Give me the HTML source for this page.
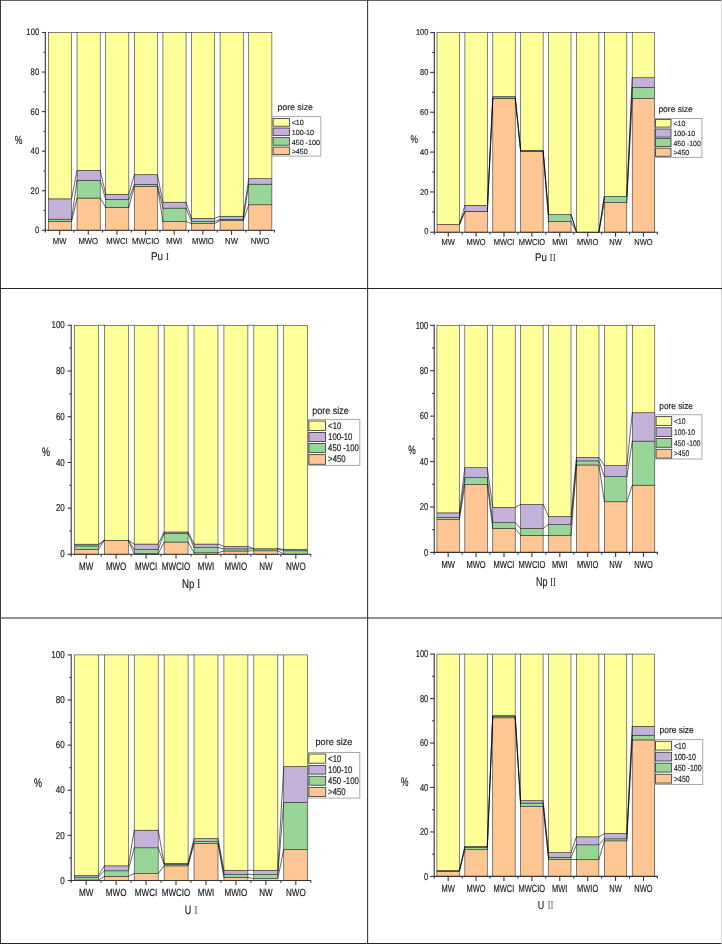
<!DOCTYPE html>
<html><head><meta charset="utf-8"><title>pore size distribution</title>
<style>
html,body{margin:0;padding:0;background:#fff;}
body{width:722px;height:944px;overflow:hidden;font-family:"Liberation Sans",sans-serif;}
svg{display:block;will-change:transform;}
text{stroke:#1a1a1a;stroke-width:0.14px;text-rendering:geometricPrecision;}
.s{font-family:"Liberation Sans",sans-serif;}
.r{font-family:"Liberation Serif",serif;stroke:none;}
</style></head><body>
<svg width="722" height="944" viewBox="0 0 722 944">

<rect x="0" y="0" width="722" height="944" fill="#fff"/>

<g id="P1">
<rect x="48.46" y="221.4" width="23.15" height="8.9" fill="#FDC692" stroke="#333" stroke-width="0.6"/>
<rect x="48.46" y="219.22" width="23.15" height="2.18" fill="#98D698" stroke="#333" stroke-width="0.6"/>
<rect x="48.46" y="198.85" width="23.15" height="20.37" fill="#C3B1D9" stroke="#333" stroke-width="0.6"/>
<rect x="48.46" y="32.5" width="23.15" height="166.35" fill="#FFFF99" stroke="#333" stroke-width="0.6"/>
<rect x="77.07" y="198.06" width="23.15" height="32.24" fill="#FDC692" stroke="#333" stroke-width="0.6"/>
<rect x="77.07" y="180.26" width="23.15" height="17.8" fill="#98D698" stroke="#333" stroke-width="0.6"/>
<rect x="77.07" y="170.37" width="23.15" height="9.89" fill="#C3B1D9" stroke="#333" stroke-width="0.6"/>
<rect x="77.07" y="32.5" width="23.15" height="137.87" fill="#FFFF99" stroke="#333" stroke-width="0.6"/>
<rect x="105.68" y="207.36" width="23.15" height="22.94" fill="#FDC692" stroke="#333" stroke-width="0.6"/>
<rect x="105.68" y="199.44" width="23.15" height="7.91" fill="#98D698" stroke="#333" stroke-width="0.6"/>
<rect x="105.68" y="194.3" width="23.15" height="5.14" fill="#C3B1D9" stroke="#333" stroke-width="0.6"/>
<rect x="105.68" y="32.5" width="23.15" height="161.8" fill="#FFFF99" stroke="#333" stroke-width="0.6"/>
<rect x="134.29" y="186.39" width="23.15" height="43.91" fill="#FDC692" stroke="#333" stroke-width="0.6"/>
<rect x="134.29" y="184.41" width="23.15" height="1.98" fill="#98D698" stroke="#333" stroke-width="0.6"/>
<rect x="134.29" y="174.72" width="23.15" height="9.69" fill="#C3B1D9" stroke="#333" stroke-width="0.6"/>
<rect x="134.29" y="32.5" width="23.15" height="142.22" fill="#FFFF99" stroke="#333" stroke-width="0.6"/>
<rect x="162.9" y="221.5" width="23.15" height="8.8" fill="#FDC692" stroke="#333" stroke-width="0.6"/>
<rect x="162.9" y="208.15" width="23.15" height="13.35" fill="#98D698" stroke="#333" stroke-width="0.6"/>
<rect x="162.9" y="202.21" width="23.15" height="5.93" fill="#C3B1D9" stroke="#333" stroke-width="0.6"/>
<rect x="162.9" y="32.5" width="23.15" height="169.71" fill="#FFFF99" stroke="#333" stroke-width="0.6"/>
<rect x="191.51" y="223.57" width="23.15" height="6.73" fill="#FDC692" stroke="#333" stroke-width="0.6"/>
<rect x="191.51" y="221.6" width="23.15" height="1.98" fill="#98D698" stroke="#333" stroke-width="0.6"/>
<rect x="191.51" y="218.43" width="23.15" height="3.16" fill="#C3B1D9" stroke="#333" stroke-width="0.6"/>
<rect x="191.51" y="32.5" width="23.15" height="185.93" fill="#FFFF99" stroke="#333" stroke-width="0.6"/>
<rect x="220.12" y="220.51" width="23.15" height="9.79" fill="#FDC692" stroke="#333" stroke-width="0.6"/>
<rect x="220.12" y="219.42" width="23.15" height="1.09" fill="#98D698" stroke="#333" stroke-width="0.6"/>
<rect x="220.12" y="216.26" width="23.15" height="3.16" fill="#C3B1D9" stroke="#333" stroke-width="0.6"/>
<rect x="220.12" y="32.5" width="23.15" height="183.76" fill="#FFFF99" stroke="#333" stroke-width="0.6"/>
<rect x="248.73" y="204.78" width="23.15" height="25.52" fill="#FDC692" stroke="#333" stroke-width="0.6"/>
<rect x="248.73" y="184.21" width="23.15" height="20.57" fill="#98D698" stroke="#333" stroke-width="0.6"/>
<rect x="248.73" y="178.67" width="23.15" height="5.54" fill="#C3B1D9" stroke="#333" stroke-width="0.6"/>
<rect x="248.73" y="32.5" width="23.15" height="146.17" fill="#FFFF99" stroke="#333" stroke-width="0.6"/>
<line x1="71.6" y1="221.4" x2="77.07" y2="198.06" stroke="#000" stroke-width="0.6"/>
<line x1="71.6" y1="219.22" x2="77.07" y2="180.26" stroke="#000" stroke-width="0.6"/>
<line x1="71.6" y1="198.85" x2="77.07" y2="170.37" stroke="#000" stroke-width="0.6"/>
<line x1="71.6" y1="32.5" x2="77.07" y2="32.5" stroke="#555" stroke-width="0.8"/>
<line x1="100.21" y1="198.06" x2="105.68" y2="207.36" stroke="#000" stroke-width="0.6"/>
<line x1="100.21" y1="180.26" x2="105.68" y2="199.44" stroke="#000" stroke-width="0.6"/>
<line x1="100.21" y1="170.37" x2="105.68" y2="194.3" stroke="#000" stroke-width="0.6"/>
<line x1="100.21" y1="32.5" x2="105.68" y2="32.5" stroke="#555" stroke-width="0.8"/>
<line x1="128.82" y1="207.36" x2="134.29" y2="186.39" stroke="#000" stroke-width="0.6"/>
<line x1="128.82" y1="199.44" x2="134.29" y2="184.41" stroke="#000" stroke-width="0.6"/>
<line x1="128.82" y1="194.3" x2="134.29" y2="174.72" stroke="#000" stroke-width="0.6"/>
<line x1="128.82" y1="32.5" x2="134.29" y2="32.5" stroke="#555" stroke-width="0.8"/>
<line x1="157.43" y1="186.39" x2="162.9" y2="221.5" stroke="#000" stroke-width="0.6"/>
<line x1="157.43" y1="184.41" x2="162.9" y2="208.15" stroke="#000" stroke-width="0.6"/>
<line x1="157.43" y1="174.72" x2="162.9" y2="202.21" stroke="#000" stroke-width="0.6"/>
<line x1="157.43" y1="32.5" x2="162.9" y2="32.5" stroke="#555" stroke-width="0.8"/>
<line x1="186.04" y1="221.5" x2="191.51" y2="223.57" stroke="#000" stroke-width="0.6"/>
<line x1="186.04" y1="208.15" x2="191.51" y2="221.6" stroke="#000" stroke-width="0.6"/>
<line x1="186.04" y1="202.21" x2="191.51" y2="218.43" stroke="#000" stroke-width="0.6"/>
<line x1="186.04" y1="32.5" x2="191.51" y2="32.5" stroke="#555" stroke-width="0.8"/>
<line x1="214.65" y1="223.57" x2="220.12" y2="220.51" stroke="#000" stroke-width="0.6"/>
<line x1="214.65" y1="221.6" x2="220.12" y2="219.42" stroke="#000" stroke-width="0.6"/>
<line x1="214.65" y1="218.43" x2="220.12" y2="216.26" stroke="#000" stroke-width="0.6"/>
<line x1="214.65" y1="32.5" x2="220.12" y2="32.5" stroke="#555" stroke-width="0.8"/>
<line x1="243.26" y1="220.51" x2="248.73" y2="204.78" stroke="#000" stroke-width="0.6"/>
<line x1="243.26" y1="219.42" x2="248.73" y2="184.21" stroke="#000" stroke-width="0.6"/>
<line x1="243.26" y1="216.26" x2="248.73" y2="178.67" stroke="#000" stroke-width="0.6"/>
<line x1="243.26" y1="32.5" x2="248.73" y2="32.5" stroke="#555" stroke-width="0.8"/>
<path d="M45.3 32V230.3H274.8" fill="none" stroke="#363636" stroke-width="1.1"/>
<line x1="42" y1="230.3" x2="45.3" y2="230.3" stroke="#363636" stroke-width="1.1"/>
<text class="s" transform="translate(39.18,233.29) scale(1,1.23)" font-size="7.7" text-anchor="end" fill="#1a1a1a">0</text>
<line x1="43.58" y1="210.52" x2="45.3" y2="210.52" stroke="#363636" stroke-width="1.1"/>
<line x1="42" y1="190.74" x2="45.3" y2="190.74" stroke="#363636" stroke-width="1.1"/>
<text class="s" transform="translate(39.18,193.73) scale(1,1.23)" font-size="7.7" text-anchor="end" fill="#1a1a1a">20</text>
<line x1="43.58" y1="170.96" x2="45.3" y2="170.96" stroke="#363636" stroke-width="1.1"/>
<line x1="42" y1="151.18" x2="45.3" y2="151.18" stroke="#363636" stroke-width="1.1"/>
<text class="s" transform="translate(39.18,154.17) scale(1,1.23)" font-size="7.7" text-anchor="end" fill="#1a1a1a">40</text>
<line x1="43.58" y1="131.4" x2="45.3" y2="131.4" stroke="#363636" stroke-width="1.1"/>
<line x1="42" y1="111.62" x2="45.3" y2="111.62" stroke="#363636" stroke-width="1.1"/>
<text class="s" transform="translate(39.18,114.61) scale(1,1.23)" font-size="7.7" text-anchor="end" fill="#1a1a1a">60</text>
<line x1="43.58" y1="91.84" x2="45.3" y2="91.84" stroke="#363636" stroke-width="1.1"/>
<line x1="42" y1="72.06" x2="45.3" y2="72.06" stroke="#363636" stroke-width="1.1"/>
<text class="s" transform="translate(39.18,75.05) scale(1,1.23)" font-size="7.7" text-anchor="end" fill="#1a1a1a">80</text>
<line x1="43.58" y1="52.28" x2="45.3" y2="52.28" stroke="#363636" stroke-width="1.1"/>
<line x1="42" y1="32.5" x2="45.3" y2="32.5" stroke="#363636" stroke-width="1.1"/>
<text class="s" transform="translate(39.18,35.49) scale(1,1.23)" font-size="7.7" text-anchor="end" fill="#1a1a1a">100</text>
<line x1="45.3" y1="230.3" x2="45.3" y2="232.5" stroke="#363636" stroke-width="1.1"/>
<line x1="59.62" y1="230.3" x2="59.62" y2="234.8" stroke="#363636" stroke-width="1.1"/>
<line x1="73.95" y1="230.3" x2="73.95" y2="232.5" stroke="#363636" stroke-width="1.1"/>
<line x1="88.27" y1="230.3" x2="88.27" y2="234.8" stroke="#363636" stroke-width="1.1"/>
<line x1="102.6" y1="230.3" x2="102.6" y2="232.5" stroke="#363636" stroke-width="1.1"/>
<line x1="116.92" y1="230.3" x2="116.92" y2="234.8" stroke="#363636" stroke-width="1.1"/>
<line x1="131.25" y1="230.3" x2="131.25" y2="232.5" stroke="#363636" stroke-width="1.1"/>
<line x1="145.57" y1="230.3" x2="145.57" y2="234.8" stroke="#363636" stroke-width="1.1"/>
<line x1="159.9" y1="230.3" x2="159.9" y2="232.5" stroke="#363636" stroke-width="1.1"/>
<line x1="174.22" y1="230.3" x2="174.22" y2="234.8" stroke="#363636" stroke-width="1.1"/>
<line x1="188.55" y1="230.3" x2="188.55" y2="232.5" stroke="#363636" stroke-width="1.1"/>
<line x1="202.88" y1="230.3" x2="202.88" y2="234.8" stroke="#363636" stroke-width="1.1"/>
<line x1="217.2" y1="230.3" x2="217.2" y2="232.5" stroke="#363636" stroke-width="1.1"/>
<line x1="231.52" y1="230.3" x2="231.52" y2="234.8" stroke="#363636" stroke-width="1.1"/>
<line x1="245.85" y1="230.3" x2="245.85" y2="232.5" stroke="#363636" stroke-width="1.1"/>
<line x1="260.18" y1="230.3" x2="260.18" y2="234.8" stroke="#363636" stroke-width="1.1"/>
<line x1="274.5" y1="230.3" x2="274.5" y2="232.5" stroke="#363636" stroke-width="1.1"/>
<text class="s" transform="translate(59.62,244.19) scale(1,1.12)" font-size="7.7" text-anchor="middle" fill="#1a1a1a">MW</text>
<text class="s" transform="translate(88.27,244.19) scale(1,1.12)" font-size="7.7" text-anchor="middle" fill="#1a1a1a">MWO</text>
<text class="s" transform="translate(116.92,244.19) scale(1,1.12)" font-size="7.7" text-anchor="middle" fill="#1a1a1a">MWCI</text>
<text class="s" transform="translate(145.57,244.19) scale(1,1.12)" font-size="7.7" text-anchor="middle" fill="#1a1a1a">MWCIO</text>
<text class="s" transform="translate(174.22,244.19) scale(1,1.12)" font-size="7.7" text-anchor="middle" fill="#1a1a1a">MWI</text>
<text class="s" transform="translate(202.88,244.19) scale(1,1.12)" font-size="7.7" text-anchor="middle" fill="#1a1a1a">MWIO</text>
<text class="s" transform="translate(231.52,244.19) scale(1,1.12)" font-size="7.7" text-anchor="middle" fill="#1a1a1a">NW</text>
<text class="s" transform="translate(260.18,244.19) scale(1,1.12)" font-size="7.7" text-anchor="middle" fill="#1a1a1a">NWO</text>
<text class="s" transform="translate(163,259.7) scale(0.96,1.09)" font-size="10.2" text-anchor="end" fill="#1a1a1a">Pu</text>
<text class="r" transform="translate(165.7,259.7) scale(0.96,1)" font-size="10.6" text-anchor="start" fill="#3a3a3a">I</text>
<text class="s" transform="translate(18.55,144.07) scale(0.96,1.32)" font-size="9" text-anchor="middle" fill="#1a1a1a">%</text>
<rect x="272.3" y="116.6" width="48.5" height="39.5" fill="#fff" stroke="#a8a8a8" stroke-width="1"/>
<rect x="273.1" y="118.6" width="16.3" height="7.6" fill="#FFFF99" stroke="#444" stroke-width="0.9"/>
<text class="s" transform="translate(291.7,125.4) scale(0.96,1)" font-size="7.45" text-anchor="start" fill="#1a1a1a">&lt;10</text>
<rect x="273.1" y="128" width="16.3" height="7.6" fill="#C3B1D9" stroke="#444" stroke-width="0.9"/>
<text class="s" transform="translate(291.7,135) scale(0.96,1)" font-size="7.45" text-anchor="start" fill="#1a1a1a">100-10</text>
<rect x="273.1" y="137.6" width="16.3" height="7.6" fill="#98D698" stroke="#444" stroke-width="0.9"/>
<text class="s" transform="translate(291.7,144.5) scale(0.96,1)" font-size="7.45" text-anchor="start" fill="#1a1a1a">450 -100</text>
<rect x="273.1" y="147.1" width="16.3" height="7.5" fill="#FDC692" stroke="#444" stroke-width="0.9"/>
<text class="s" transform="translate(291.7,154) scale(0.96,1)" font-size="7.45" text-anchor="start" fill="#1a1a1a">&gt;450</text>
<text class="s" transform="translate(277.4,109.7) scale(0.96,0.95)" font-size="9.13" text-anchor="start" fill="#1a1a1a">pore size</text>
</g>
<g id="P2">
<rect x="437.02" y="224.43" width="22.45" height="7.77" fill="#FDC692" stroke="#333" stroke-width="0.6"/>
<rect x="437.02" y="224.43" width="22.45" height="0" fill="#98D698" stroke="#333" stroke-width="0.6"/>
<rect x="437.02" y="224.43" width="22.45" height="0" fill="#C3B1D9" stroke="#333" stroke-width="0.6"/>
<rect x="437.02" y="32.5" width="22.45" height="191.93" fill="#FFFF99" stroke="#333" stroke-width="0.6"/>
<rect x="464.91" y="211.67" width="22.45" height="20.53" fill="#FDC692" stroke="#333" stroke-width="0.6"/>
<rect x="464.91" y="211.47" width="22.45" height="0.2" fill="#98D698" stroke="#333" stroke-width="0.6"/>
<rect x="464.91" y="205.29" width="22.45" height="6.18" fill="#C3B1D9" stroke="#333" stroke-width="0.6"/>
<rect x="464.91" y="32.5" width="22.45" height="172.79" fill="#FFFF99" stroke="#333" stroke-width="0.6"/>
<rect x="492.79" y="98.67" width="22.45" height="133.53" fill="#FDC692" stroke="#333" stroke-width="0.6"/>
<rect x="492.79" y="98.07" width="22.45" height="0.6" fill="#98D698" stroke="#333" stroke-width="0.6"/>
<rect x="492.79" y="96.48" width="22.45" height="1.59" fill="#C3B1D9" stroke="#333" stroke-width="0.6"/>
<rect x="492.79" y="32.5" width="22.45" height="63.98" fill="#FFFF99" stroke="#333" stroke-width="0.6"/>
<rect x="520.68" y="151.68" width="22.45" height="80.52" fill="#FDC692" stroke="#333" stroke-width="0.6"/>
<rect x="520.68" y="151.08" width="22.45" height="0.6" fill="#98D698" stroke="#333" stroke-width="0.6"/>
<rect x="520.68" y="150.29" width="22.45" height="0.8" fill="#C3B1D9" stroke="#333" stroke-width="0.6"/>
<rect x="520.68" y="32.5" width="22.45" height="117.79" fill="#FFFF99" stroke="#333" stroke-width="0.6"/>
<rect x="548.57" y="221.44" width="22.45" height="10.76" fill="#FDC692" stroke="#333" stroke-width="0.6"/>
<rect x="548.57" y="214.46" width="22.45" height="6.98" fill="#98D698" stroke="#333" stroke-width="0.6"/>
<rect x="548.57" y="214.46" width="22.45" height="0" fill="#C3B1D9" stroke="#333" stroke-width="0.6"/>
<rect x="548.57" y="32.5" width="22.45" height="181.96" fill="#FFFF99" stroke="#333" stroke-width="0.6"/>
<rect x="576.46" y="231.8" width="22.45" height="0.4" fill="#FDC692" stroke="#333" stroke-width="0.6"/>
<rect x="576.46" y="231.8" width="22.45" height="0.4" fill="#98D698" stroke="#333" stroke-width="0.6"/>
<rect x="576.46" y="231.8" width="22.45" height="0.4" fill="#C3B1D9" stroke="#333" stroke-width="0.6"/>
<rect x="576.46" y="32.5" width="22.45" height="199.7" fill="#FFFF99" stroke="#333" stroke-width="0.6"/>
<rect x="604.34" y="202.5" width="22.45" height="29.7" fill="#FDC692" stroke="#333" stroke-width="0.6"/>
<rect x="604.34" y="196.32" width="22.45" height="6.18" fill="#98D698" stroke="#333" stroke-width="0.6"/>
<rect x="604.34" y="196.32" width="22.45" height="0" fill="#C3B1D9" stroke="#333" stroke-width="0.6"/>
<rect x="604.34" y="32.5" width="22.45" height="163.82" fill="#FFFF99" stroke="#333" stroke-width="0.6"/>
<rect x="632.23" y="98.47" width="22.45" height="133.73" fill="#FDC692" stroke="#333" stroke-width="0.6"/>
<rect x="632.23" y="87.31" width="22.45" height="11.16" fill="#98D698" stroke="#333" stroke-width="0.6"/>
<rect x="632.23" y="77.74" width="22.45" height="9.57" fill="#C3B1D9" stroke="#333" stroke-width="0.6"/>
<rect x="632.23" y="32.5" width="22.45" height="45.24" fill="#FFFF99" stroke="#333" stroke-width="0.6"/>
<line x1="459.47" y1="224.43" x2="464.91" y2="211.67" stroke="#000" stroke-width="0.6"/>
<line x1="459.47" y1="224.43" x2="464.91" y2="211.47" stroke="#000" stroke-width="0.6"/>
<line x1="459.47" y1="224.43" x2="464.91" y2="205.29" stroke="#000" stroke-width="0.6"/>
<line x1="459.47" y1="32.5" x2="464.91" y2="32.5" stroke="#555" stroke-width="0.8"/>
<line x1="487.36" y1="211.67" x2="492.79" y2="98.67" stroke="#000" stroke-width="0.6"/>
<line x1="487.36" y1="211.47" x2="492.79" y2="98.07" stroke="#000" stroke-width="0.6"/>
<line x1="487.36" y1="205.29" x2="492.79" y2="96.48" stroke="#000" stroke-width="0.6"/>
<line x1="487.36" y1="32.5" x2="492.79" y2="32.5" stroke="#555" stroke-width="0.8"/>
<line x1="515.24" y1="98.67" x2="520.68" y2="151.68" stroke="#000" stroke-width="0.6"/>
<line x1="515.24" y1="98.07" x2="520.68" y2="151.08" stroke="#000" stroke-width="0.6"/>
<line x1="515.24" y1="96.48" x2="520.68" y2="150.29" stroke="#000" stroke-width="0.6"/>
<line x1="515.24" y1="32.5" x2="520.68" y2="32.5" stroke="#555" stroke-width="0.8"/>
<line x1="543.13" y1="151.68" x2="548.57" y2="221.44" stroke="#000" stroke-width="0.6"/>
<line x1="543.13" y1="151.08" x2="548.57" y2="214.46" stroke="#000" stroke-width="0.6"/>
<line x1="543.13" y1="150.29" x2="548.57" y2="214.46" stroke="#000" stroke-width="0.6"/>
<line x1="543.13" y1="32.5" x2="548.57" y2="32.5" stroke="#555" stroke-width="0.8"/>
<line x1="571.02" y1="221.44" x2="576.46" y2="231.8" stroke="#000" stroke-width="0.6"/>
<line x1="571.02" y1="214.46" x2="576.46" y2="231.8" stroke="#000" stroke-width="0.6"/>
<line x1="571.02" y1="214.46" x2="576.46" y2="231.8" stroke="#000" stroke-width="0.6"/>
<line x1="571.02" y1="32.5" x2="576.46" y2="32.5" stroke="#555" stroke-width="0.8"/>
<line x1="598.91" y1="231.8" x2="604.34" y2="202.5" stroke="#000" stroke-width="0.6"/>
<line x1="598.91" y1="231.8" x2="604.34" y2="196.32" stroke="#000" stroke-width="0.6"/>
<line x1="598.91" y1="231.8" x2="604.34" y2="196.32" stroke="#000" stroke-width="0.6"/>
<line x1="598.91" y1="32.5" x2="604.34" y2="32.5" stroke="#555" stroke-width="0.8"/>
<line x1="626.79" y1="202.5" x2="632.23" y2="98.47" stroke="#000" stroke-width="0.6"/>
<line x1="626.79" y1="196.32" x2="632.23" y2="87.31" stroke="#000" stroke-width="0.6"/>
<line x1="626.79" y1="196.32" x2="632.23" y2="77.74" stroke="#000" stroke-width="0.6"/>
<line x1="626.79" y1="32.5" x2="632.23" y2="32.5" stroke="#555" stroke-width="0.8"/>
<path d="M434.3 32V232.2H657.7" fill="none" stroke="#363636" stroke-width="1.1"/>
<line x1="430.2" y1="232.2" x2="434.3" y2="232.2" stroke="#363636" stroke-width="1.1"/>
<text class="s" transform="translate(428.34,234.44) scale(0.97,1.1)" font-size="7.7" text-anchor="end" fill="#1a1a1a">0</text>
<line x1="432.17" y1="211.87" x2="434.3" y2="211.87" stroke="#363636" stroke-width="1.1"/>
<line x1="430.2" y1="191.94" x2="434.3" y2="191.94" stroke="#363636" stroke-width="1.1"/>
<text class="s" transform="translate(428.34,194.58) scale(0.97,1.1)" font-size="7.7" text-anchor="end" fill="#1a1a1a">20</text>
<line x1="432.17" y1="172.01" x2="434.3" y2="172.01" stroke="#363636" stroke-width="1.1"/>
<line x1="430.2" y1="152.08" x2="434.3" y2="152.08" stroke="#363636" stroke-width="1.1"/>
<text class="s" transform="translate(428.34,154.72) scale(0.97,1.1)" font-size="7.7" text-anchor="end" fill="#1a1a1a">40</text>
<line x1="432.17" y1="132.15" x2="434.3" y2="132.15" stroke="#363636" stroke-width="1.1"/>
<line x1="430.2" y1="112.22" x2="434.3" y2="112.22" stroke="#363636" stroke-width="1.1"/>
<text class="s" transform="translate(428.34,114.86) scale(0.97,1.1)" font-size="7.7" text-anchor="end" fill="#1a1a1a">60</text>
<line x1="432.17" y1="92.29" x2="434.3" y2="92.29" stroke="#363636" stroke-width="1.1"/>
<line x1="430.2" y1="72.36" x2="434.3" y2="72.36" stroke="#363636" stroke-width="1.1"/>
<text class="s" transform="translate(428.34,75) scale(0.97,1.1)" font-size="7.7" text-anchor="end" fill="#1a1a1a">80</text>
<line x1="432.17" y1="52.43" x2="434.3" y2="52.43" stroke="#363636" stroke-width="1.1"/>
<line x1="430.2" y1="32.5" x2="434.3" y2="32.5" stroke="#363636" stroke-width="1.1"/>
<text class="s" transform="translate(428.34,35.14) scale(0.97,1.1)" font-size="7.7" text-anchor="end" fill="#1a1a1a">100</text>
<line x1="434.3" y1="232.2" x2="434.3" y2="234.4" stroke="#363636" stroke-width="1.1"/>
<line x1="448.24" y1="232.2" x2="448.24" y2="236.7" stroke="#363636" stroke-width="1.1"/>
<line x1="462.19" y1="232.2" x2="462.19" y2="234.4" stroke="#363636" stroke-width="1.1"/>
<line x1="476.13" y1="232.2" x2="476.13" y2="236.7" stroke="#363636" stroke-width="1.1"/>
<line x1="490.07" y1="232.2" x2="490.07" y2="234.4" stroke="#363636" stroke-width="1.1"/>
<line x1="504.02" y1="232.2" x2="504.02" y2="236.7" stroke="#363636" stroke-width="1.1"/>
<line x1="517.96" y1="232.2" x2="517.96" y2="234.4" stroke="#363636" stroke-width="1.1"/>
<line x1="531.91" y1="232.2" x2="531.91" y2="236.7" stroke="#363636" stroke-width="1.1"/>
<line x1="545.85" y1="232.2" x2="545.85" y2="234.4" stroke="#363636" stroke-width="1.1"/>
<line x1="559.79" y1="232.2" x2="559.79" y2="236.7" stroke="#363636" stroke-width="1.1"/>
<line x1="573.74" y1="232.2" x2="573.74" y2="234.4" stroke="#363636" stroke-width="1.1"/>
<line x1="587.68" y1="232.2" x2="587.68" y2="236.7" stroke="#363636" stroke-width="1.1"/>
<line x1="601.62" y1="232.2" x2="601.62" y2="234.4" stroke="#363636" stroke-width="1.1"/>
<line x1="615.57" y1="232.2" x2="615.57" y2="236.7" stroke="#363636" stroke-width="1.1"/>
<line x1="629.51" y1="232.2" x2="629.51" y2="234.4" stroke="#363636" stroke-width="1.1"/>
<line x1="643.46" y1="232.2" x2="643.46" y2="236.7" stroke="#363636" stroke-width="1.1"/>
<line x1="657.4" y1="232.2" x2="657.4" y2="234.4" stroke="#363636" stroke-width="1.1"/>
<text class="s" transform="translate(448.24,245.19) scale(0.97,1.12)" font-size="7.7" text-anchor="middle" fill="#1a1a1a">MW</text>
<text class="s" transform="translate(476.13,245.19) scale(0.97,1.12)" font-size="7.7" text-anchor="middle" fill="#1a1a1a">MWO</text>
<text class="s" transform="translate(504.02,245.19) scale(0.97,1.12)" font-size="7.7" text-anchor="middle" fill="#1a1a1a">MWCI</text>
<text class="s" transform="translate(531.91,245.19) scale(0.97,1.12)" font-size="7.7" text-anchor="middle" fill="#1a1a1a">MWCIO</text>
<text class="s" transform="translate(559.79,245.19) scale(0.97,1.12)" font-size="7.7" text-anchor="middle" fill="#1a1a1a">MWI</text>
<text class="s" transform="translate(587.68,245.19) scale(0.97,1.12)" font-size="7.7" text-anchor="middle" fill="#1a1a1a">MWIO</text>
<text class="s" transform="translate(615.57,245.19) scale(0.97,1.12)" font-size="7.7" text-anchor="middle" fill="#1a1a1a">NW</text>
<text class="s" transform="translate(643.46,245.19) scale(0.97,1.12)" font-size="7.7" text-anchor="middle" fill="#1a1a1a">NWO</text>
<text class="s" transform="translate(546.8,260.5) scale(0.93,1.07)" font-size="10.4" text-anchor="end" fill="#1a1a1a">Pu</text>
<text class="r" transform="translate(549.6,260.5) scale(0.93,1.05)" font-size="10.2" text-anchor="start" fill="#3a3a3a">II</text>
<text class="s" transform="translate(414.1,142.82) scale(0.93,1.25)" font-size="9" text-anchor="middle" fill="#1a1a1a">%</text>
<rect x="655.1" y="118.5" width="46.8" height="38.9" fill="#fff" stroke="#a8a8a8" stroke-width="1"/>
<rect x="655.5" y="119.4" width="15.5" height="7.7" fill="#FFFF99" stroke="#444" stroke-width="0.9"/>
<text class="s" transform="translate(673.5,126.4) scale(0.93,1)" font-size="7.45" text-anchor="start" fill="#1a1a1a">&lt;10</text>
<rect x="655.5" y="129" width="15.5" height="8.1" fill="#C3B1D9" stroke="#444" stroke-width="0.9"/>
<text class="s" transform="translate(673.5,136.1) scale(0.93,1)" font-size="7.45" text-anchor="start" fill="#1a1a1a">100-10</text>
<rect x="655.5" y="138.4" width="15.5" height="8.1" fill="#98D698" stroke="#444" stroke-width="0.9"/>
<text class="s" transform="translate(673.5,145.6) scale(0.93,1)" font-size="7.45" text-anchor="start" fill="#1a1a1a">450 -100</text>
<rect x="655.5" y="148.2" width="15.5" height="8.1" fill="#FDC692" stroke="#444" stroke-width="0.9"/>
<text class="s" transform="translate(673.5,155) scale(0.93,1)" font-size="7.45" text-anchor="start" fill="#1a1a1a">&gt;450</text>
<text class="s" transform="translate(658.4,112.3) scale(0.93,0.95)" font-size="9.14" text-anchor="start" fill="#1a1a1a">pore size</text>
</g>
<g id="P3">
<rect x="74.43" y="549.56" width="23.96" height="4.74" fill="#FDC692" stroke="#333" stroke-width="0.6"/>
<rect x="74.43" y="545.9" width="23.96" height="3.66" fill="#98D698" stroke="#333" stroke-width="0.6"/>
<rect x="74.43" y="544.18" width="23.96" height="1.71" fill="#C3B1D9" stroke="#333" stroke-width="0.6"/>
<rect x="74.43" y="325.3" width="23.96" height="218.88" fill="#FFFF99" stroke="#333" stroke-width="0.6"/>
<rect x="104.33" y="540.3" width="23.96" height="14" fill="#FDC692" stroke="#333" stroke-width="0.6"/>
<rect x="104.33" y="540.3" width="23.96" height="0" fill="#98D698" stroke="#333" stroke-width="0.6"/>
<rect x="104.33" y="540.3" width="23.96" height="0" fill="#C3B1D9" stroke="#333" stroke-width="0.6"/>
<rect x="104.33" y="325.3" width="23.96" height="215" fill="#FFFF99" stroke="#333" stroke-width="0.6"/>
<rect x="134.23" y="553.79" width="23.96" height="0.51" fill="#FDC692" stroke="#333" stroke-width="0.6"/>
<rect x="134.23" y="549.44" width="23.96" height="4.34" fill="#98D698" stroke="#333" stroke-width="0.6"/>
<rect x="134.23" y="544.07" width="23.96" height="5.37" fill="#C3B1D9" stroke="#333" stroke-width="0.6"/>
<rect x="134.23" y="325.3" width="23.96" height="218.77" fill="#FFFF99" stroke="#333" stroke-width="0.6"/>
<rect x="164.13" y="542.01" width="23.96" height="12.29" fill="#FDC692" stroke="#333" stroke-width="0.6"/>
<rect x="164.13" y="533.33" width="23.96" height="8.69" fill="#98D698" stroke="#333" stroke-width="0.6"/>
<rect x="164.13" y="531.95" width="23.96" height="1.37" fill="#C3B1D9" stroke="#333" stroke-width="0.6"/>
<rect x="164.13" y="325.3" width="23.96" height="206.65" fill="#FFFF99" stroke="#333" stroke-width="0.6"/>
<rect x="194.03" y="552.76" width="23.96" height="1.54" fill="#FDC692" stroke="#333" stroke-width="0.6"/>
<rect x="194.03" y="547.59" width="23.96" height="5.17" fill="#98D698" stroke="#333" stroke-width="0.6"/>
<rect x="194.03" y="544.07" width="23.96" height="3.52" fill="#C3B1D9" stroke="#333" stroke-width="0.6"/>
<rect x="194.03" y="325.3" width="23.96" height="218.77" fill="#FFFF99" stroke="#333" stroke-width="0.6"/>
<rect x="223.93" y="551" width="23.96" height="3.3" fill="#FDC692" stroke="#333" stroke-width="0.6"/>
<rect x="223.93" y="548.87" width="23.96" height="2.13" fill="#98D698" stroke="#333" stroke-width="0.6"/>
<rect x="223.93" y="546.42" width="23.96" height="2.45" fill="#C3B1D9" stroke="#333" stroke-width="0.6"/>
<rect x="223.93" y="325.3" width="23.96" height="221.12" fill="#FFFF99" stroke="#333" stroke-width="0.6"/>
<rect x="253.83" y="550.79" width="23.96" height="3.51" fill="#FDC692" stroke="#333" stroke-width="0.6"/>
<rect x="253.83" y="548.87" width="23.96" height="1.92" fill="#98D698" stroke="#333" stroke-width="0.6"/>
<rect x="253.83" y="548.76" width="23.96" height="0.11" fill="#C3B1D9" stroke="#333" stroke-width="0.6"/>
<rect x="253.83" y="325.3" width="23.96" height="223.46" fill="#FFFF99" stroke="#333" stroke-width="0.6"/>
<rect x="283.73" y="553.9" width="23.96" height="0.4" fill="#FDC692" stroke="#333" stroke-width="0.6"/>
<rect x="283.73" y="550.79" width="23.96" height="3.51" fill="#98D698" stroke="#333" stroke-width="0.6"/>
<rect x="283.73" y="549.33" width="23.96" height="1.46" fill="#C3B1D9" stroke="#333" stroke-width="0.6"/>
<rect x="283.73" y="325.3" width="23.96" height="224.03" fill="#FFFF99" stroke="#333" stroke-width="0.6"/>
<line x1="98.39" y1="549.56" x2="104.33" y2="540.3" stroke="#000" stroke-width="0.6"/>
<line x1="98.39" y1="545.9" x2="104.33" y2="540.3" stroke="#000" stroke-width="0.6"/>
<line x1="98.39" y1="544.18" x2="104.33" y2="540.3" stroke="#000" stroke-width="0.6"/>
<line x1="98.39" y1="325.3" x2="104.33" y2="325.3" stroke="#555" stroke-width="0.8"/>
<line x1="128.29" y1="540.3" x2="134.23" y2="553.79" stroke="#000" stroke-width="0.6"/>
<line x1="128.29" y1="540.3" x2="134.23" y2="549.44" stroke="#000" stroke-width="0.6"/>
<line x1="128.29" y1="540.3" x2="134.23" y2="544.07" stroke="#000" stroke-width="0.6"/>
<line x1="128.29" y1="325.3" x2="134.23" y2="325.3" stroke="#555" stroke-width="0.8"/>
<line x1="158.19" y1="553.79" x2="164.13" y2="542.01" stroke="#000" stroke-width="0.6"/>
<line x1="158.19" y1="549.44" x2="164.13" y2="533.33" stroke="#000" stroke-width="0.6"/>
<line x1="158.19" y1="544.07" x2="164.13" y2="531.95" stroke="#000" stroke-width="0.6"/>
<line x1="158.19" y1="325.3" x2="164.13" y2="325.3" stroke="#555" stroke-width="0.8"/>
<line x1="188.09" y1="542.01" x2="194.03" y2="552.76" stroke="#000" stroke-width="0.6"/>
<line x1="188.09" y1="533.33" x2="194.03" y2="547.59" stroke="#000" stroke-width="0.6"/>
<line x1="188.09" y1="531.95" x2="194.03" y2="544.07" stroke="#000" stroke-width="0.6"/>
<line x1="188.09" y1="325.3" x2="194.03" y2="325.3" stroke="#555" stroke-width="0.8"/>
<line x1="217.99" y1="552.76" x2="223.93" y2="551" stroke="#000" stroke-width="0.6"/>
<line x1="217.99" y1="547.59" x2="223.93" y2="548.87" stroke="#000" stroke-width="0.6"/>
<line x1="217.99" y1="544.07" x2="223.93" y2="546.42" stroke="#000" stroke-width="0.6"/>
<line x1="217.99" y1="325.3" x2="223.93" y2="325.3" stroke="#555" stroke-width="0.8"/>
<line x1="247.89" y1="551" x2="253.83" y2="550.79" stroke="#000" stroke-width="0.6"/>
<line x1="247.89" y1="548.87" x2="253.83" y2="548.87" stroke="#000" stroke-width="0.6"/>
<line x1="247.89" y1="546.42" x2="253.83" y2="548.76" stroke="#000" stroke-width="0.6"/>
<line x1="247.89" y1="325.3" x2="253.83" y2="325.3" stroke="#555" stroke-width="0.8"/>
<line x1="277.79" y1="550.79" x2="283.73" y2="553.9" stroke="#000" stroke-width="0.6"/>
<line x1="277.79" y1="548.87" x2="283.73" y2="550.79" stroke="#000" stroke-width="0.6"/>
<line x1="277.79" y1="548.76" x2="283.73" y2="549.33" stroke="#000" stroke-width="0.6"/>
<line x1="277.79" y1="325.3" x2="283.73" y2="325.3" stroke="#555" stroke-width="0.8"/>
<path d="M71.2 324.8V554.3H311.1" fill="none" stroke="#363636" stroke-width="1.1"/>
<line x1="67.6" y1="554.3" x2="71.2" y2="554.3" stroke="#363636" stroke-width="1.1"/>
<text class="s" transform="translate(64.8,557.06) scale(1.04,1.29)" font-size="7.7" text-anchor="end" fill="#1a1a1a">0</text>
<line x1="69.33" y1="531.04" x2="71.2" y2="531.04" stroke="#363636" stroke-width="1.1"/>
<line x1="67.6" y1="508.18" x2="71.2" y2="508.18" stroke="#363636" stroke-width="1.1"/>
<text class="s" transform="translate(64.8,511.34) scale(1.04,1.29)" font-size="7.7" text-anchor="end" fill="#1a1a1a">20</text>
<line x1="69.33" y1="485.32" x2="71.2" y2="485.32" stroke="#363636" stroke-width="1.1"/>
<line x1="67.6" y1="462.46" x2="71.2" y2="462.46" stroke="#363636" stroke-width="1.1"/>
<text class="s" transform="translate(64.8,465.62) scale(1.04,1.29)" font-size="7.7" text-anchor="end" fill="#1a1a1a">40</text>
<line x1="69.33" y1="439.6" x2="71.2" y2="439.6" stroke="#363636" stroke-width="1.1"/>
<line x1="67.6" y1="416.74" x2="71.2" y2="416.74" stroke="#363636" stroke-width="1.1"/>
<text class="s" transform="translate(64.8,419.9) scale(1.04,1.29)" font-size="7.7" text-anchor="end" fill="#1a1a1a">60</text>
<line x1="69.33" y1="393.88" x2="71.2" y2="393.88" stroke="#363636" stroke-width="1.1"/>
<line x1="67.6" y1="371.02" x2="71.2" y2="371.02" stroke="#363636" stroke-width="1.1"/>
<text class="s" transform="translate(64.8,374.18) scale(1.04,1.29)" font-size="7.7" text-anchor="end" fill="#1a1a1a">80</text>
<line x1="69.33" y1="348.16" x2="71.2" y2="348.16" stroke="#363636" stroke-width="1.1"/>
<line x1="67.6" y1="325.3" x2="71.2" y2="325.3" stroke="#363636" stroke-width="1.1"/>
<text class="s" transform="translate(64.8,328.46) scale(1.04,1.29)" font-size="7.7" text-anchor="end" fill="#1a1a1a">100</text>
<line x1="71.2" y1="554.3" x2="71.2" y2="556.5" stroke="#363636" stroke-width="1.1"/>
<line x1="86.18" y1="554.3" x2="86.18" y2="558.8" stroke="#363636" stroke-width="1.1"/>
<line x1="101.15" y1="554.3" x2="101.15" y2="556.5" stroke="#363636" stroke-width="1.1"/>
<line x1="116.12" y1="554.3" x2="116.12" y2="558.8" stroke="#363636" stroke-width="1.1"/>
<line x1="131.1" y1="554.3" x2="131.1" y2="556.5" stroke="#363636" stroke-width="1.1"/>
<line x1="146.07" y1="554.3" x2="146.07" y2="558.8" stroke="#363636" stroke-width="1.1"/>
<line x1="161.05" y1="554.3" x2="161.05" y2="556.5" stroke="#363636" stroke-width="1.1"/>
<line x1="176.03" y1="554.3" x2="176.03" y2="558.8" stroke="#363636" stroke-width="1.1"/>
<line x1="191" y1="554.3" x2="191" y2="556.5" stroke="#363636" stroke-width="1.1"/>
<line x1="205.98" y1="554.3" x2="205.98" y2="558.8" stroke="#363636" stroke-width="1.1"/>
<line x1="220.95" y1="554.3" x2="220.95" y2="556.5" stroke="#363636" stroke-width="1.1"/>
<line x1="235.93" y1="554.3" x2="235.93" y2="558.8" stroke="#363636" stroke-width="1.1"/>
<line x1="250.9" y1="554.3" x2="250.9" y2="556.5" stroke="#363636" stroke-width="1.1"/>
<line x1="265.88" y1="554.3" x2="265.88" y2="558.8" stroke="#363636" stroke-width="1.1"/>
<line x1="280.85" y1="554.3" x2="280.85" y2="556.5" stroke="#363636" stroke-width="1.1"/>
<line x1="295.83" y1="554.3" x2="295.83" y2="558.8" stroke="#363636" stroke-width="1.1"/>
<line x1="310.8" y1="554.3" x2="310.8" y2="556.5" stroke="#363636" stroke-width="1.1"/>
<text class="s" transform="translate(86.18,569.7) scale(1.04,1.4)" font-size="7.7" text-anchor="middle" fill="#1a1a1a">MW</text>
<text class="s" transform="translate(116.12,569.7) scale(1.04,1.4)" font-size="7.7" text-anchor="middle" fill="#1a1a1a">MWO</text>
<text class="s" transform="translate(146.07,569.7) scale(1.04,1.4)" font-size="7.7" text-anchor="middle" fill="#1a1a1a">MWCI</text>
<text class="s" transform="translate(176.03,569.7) scale(1.04,1.4)" font-size="7.7" text-anchor="middle" fill="#1a1a1a">MWCIO</text>
<text class="s" transform="translate(205.98,569.7) scale(1.04,1.4)" font-size="7.7" text-anchor="middle" fill="#1a1a1a">MWI</text>
<text class="s" transform="translate(235.93,569.7) scale(1.04,1.4)" font-size="7.7" text-anchor="middle" fill="#1a1a1a">MWIO</text>
<text class="s" transform="translate(265.88,569.7) scale(1.04,1.4)" font-size="7.7" text-anchor="middle" fill="#1a1a1a">NW</text>
<text class="s" transform="translate(295.83,569.7) scale(1.04,1.4)" font-size="7.7" text-anchor="middle" fill="#1a1a1a">NWO</text>
<text class="s" transform="translate(194.3,587.9) scale(1,1.27)" font-size="9.6" text-anchor="end" fill="#1a1a1a">Np</text>
<text class="r" transform="translate(196.8,588.1) scale(1,1.15)" font-size="11.8" text-anchor="start" fill="#3a3a3a">I</text>
<text class="s" transform="translate(46,455.86) scale(1,1.38)" font-size="9" text-anchor="middle" fill="#1a1a1a">%</text>
<rect x="308.3" y="419.4" width="51.5" height="46" fill="#fff" stroke="#a8a8a8" stroke-width="1"/>
<rect x="308.9" y="421" width="16.6" height="9.5" fill="#FFFF99" stroke="#444" stroke-width="0.9"/>
<text class="s" transform="translate(328.1,428.6) scale(1,1.24)" font-size="7.79" text-anchor="start" fill="#1a1a1a">&lt;10</text>
<rect x="308.9" y="432.5" width="16.6" height="9" fill="#C3B1D9" stroke="#444" stroke-width="0.9"/>
<text class="s" transform="translate(328.1,439.9) scale(1,1.24)" font-size="7.79" text-anchor="start" fill="#1a1a1a">100-10</text>
<rect x="308.9" y="443.5" width="16.6" height="9.1" fill="#98D698" stroke="#444" stroke-width="0.9"/>
<text class="s" transform="translate(328.1,450.8) scale(1,1.24)" font-size="7.79" text-anchor="start" fill="#1a1a1a">450 -100</text>
<rect x="308.9" y="454.6" width="16.6" height="9.7" fill="#FDC692" stroke="#444" stroke-width="0.9"/>
<text class="s" transform="translate(328.1,462.2) scale(1,1.24)" font-size="7.79" text-anchor="start" fill="#1a1a1a">&gt;450</text>
<text class="s" transform="translate(312.3,413.7) scale(1,1.14)" font-size="8.96" text-anchor="start" fill="#1a1a1a">pore size</text>
</g>
<g id="P4">
<rect x="436.92" y="519.7" width="22.47" height="32.7" fill="#FDC692" stroke="#333" stroke-width="0.6"/>
<rect x="436.92" y="517.43" width="22.47" height="2.27" fill="#98D698" stroke="#333" stroke-width="0.6"/>
<rect x="436.92" y="512.88" width="22.47" height="4.54" fill="#C3B1D9" stroke="#333" stroke-width="0.6"/>
<rect x="436.92" y="325.3" width="22.47" height="187.58" fill="#FFFF99" stroke="#333" stroke-width="0.6"/>
<rect x="464.83" y="484.5" width="22.47" height="67.9" fill="#FDC692" stroke="#333" stroke-width="0.6"/>
<rect x="464.83" y="477.68" width="22.47" height="6.81" fill="#98D698" stroke="#333" stroke-width="0.6"/>
<rect x="464.83" y="467.69" width="22.47" height="9.99" fill="#C3B1D9" stroke="#333" stroke-width="0.6"/>
<rect x="464.83" y="325.3" width="22.47" height="142.39" fill="#FFFF99" stroke="#333" stroke-width="0.6"/>
<rect x="492.75" y="528.33" width="22.47" height="24.07" fill="#FDC692" stroke="#333" stroke-width="0.6"/>
<rect x="492.75" y="522.65" width="22.47" height="5.68" fill="#98D698" stroke="#333" stroke-width="0.6"/>
<rect x="492.75" y="507.43" width="22.47" height="15.22" fill="#C3B1D9" stroke="#333" stroke-width="0.6"/>
<rect x="492.75" y="325.3" width="22.47" height="182.13" fill="#FFFF99" stroke="#333" stroke-width="0.6"/>
<rect x="520.66" y="535.37" width="22.47" height="17.03" fill="#FDC692" stroke="#333" stroke-width="0.6"/>
<rect x="520.66" y="528.33" width="22.47" height="7.04" fill="#98D698" stroke="#333" stroke-width="0.6"/>
<rect x="520.66" y="504.48" width="22.47" height="23.85" fill="#C3B1D9" stroke="#333" stroke-width="0.6"/>
<rect x="520.66" y="325.3" width="22.47" height="179.18" fill="#FFFF99" stroke="#333" stroke-width="0.6"/>
<rect x="548.57" y="535.59" width="22.47" height="16.81" fill="#FDC692" stroke="#333" stroke-width="0.6"/>
<rect x="548.57" y="524.47" width="22.47" height="11.13" fill="#98D698" stroke="#333" stroke-width="0.6"/>
<rect x="548.57" y="516.52" width="22.47" height="7.95" fill="#C3B1D9" stroke="#333" stroke-width="0.6"/>
<rect x="548.57" y="325.3" width="22.47" height="191.22" fill="#FFFF99" stroke="#333" stroke-width="0.6"/>
<rect x="576.48" y="464.97" width="22.47" height="87.43" fill="#FDC692" stroke="#333" stroke-width="0.6"/>
<rect x="576.48" y="460.88" width="22.47" height="4.09" fill="#98D698" stroke="#333" stroke-width="0.6"/>
<rect x="576.48" y="457.47" width="22.47" height="3.41" fill="#C3B1D9" stroke="#333" stroke-width="0.6"/>
<rect x="576.48" y="325.3" width="22.47" height="132.17" fill="#FFFF99" stroke="#333" stroke-width="0.6"/>
<rect x="604.4" y="501.76" width="22.47" height="50.64" fill="#FDC692" stroke="#333" stroke-width="0.6"/>
<rect x="604.4" y="476.55" width="22.47" height="25.21" fill="#98D698" stroke="#333" stroke-width="0.6"/>
<rect x="604.4" y="465.65" width="22.47" height="10.9" fill="#C3B1D9" stroke="#333" stroke-width="0.6"/>
<rect x="604.4" y="325.3" width="22.47" height="140.35" fill="#FFFF99" stroke="#333" stroke-width="0.6"/>
<rect x="632.31" y="485.18" width="22.47" height="67.22" fill="#FDC692" stroke="#333" stroke-width="0.6"/>
<rect x="632.31" y="441.12" width="22.47" height="44.06" fill="#98D698" stroke="#333" stroke-width="0.6"/>
<rect x="632.31" y="412.73" width="22.47" height="28.39" fill="#C3B1D9" stroke="#333" stroke-width="0.6"/>
<rect x="632.31" y="325.3" width="22.47" height="87.43" fill="#FFFF99" stroke="#333" stroke-width="0.6"/>
<line x1="459.39" y1="519.7" x2="464.83" y2="484.5" stroke="#000" stroke-width="0.6"/>
<line x1="459.39" y1="517.43" x2="464.83" y2="477.68" stroke="#000" stroke-width="0.6"/>
<line x1="459.39" y1="512.88" x2="464.83" y2="467.69" stroke="#000" stroke-width="0.6"/>
<line x1="459.39" y1="325.3" x2="464.83" y2="325.3" stroke="#555" stroke-width="0.8"/>
<line x1="487.3" y1="484.5" x2="492.75" y2="528.33" stroke="#000" stroke-width="0.6"/>
<line x1="487.3" y1="477.68" x2="492.75" y2="522.65" stroke="#000" stroke-width="0.6"/>
<line x1="487.3" y1="467.69" x2="492.75" y2="507.43" stroke="#000" stroke-width="0.6"/>
<line x1="487.3" y1="325.3" x2="492.75" y2="325.3" stroke="#555" stroke-width="0.8"/>
<line x1="515.22" y1="528.33" x2="520.66" y2="535.37" stroke="#000" stroke-width="0.6"/>
<line x1="515.22" y1="522.65" x2="520.66" y2="528.33" stroke="#000" stroke-width="0.6"/>
<line x1="515.22" y1="507.43" x2="520.66" y2="504.48" stroke="#000" stroke-width="0.6"/>
<line x1="515.22" y1="325.3" x2="520.66" y2="325.3" stroke="#555" stroke-width="0.8"/>
<line x1="543.13" y1="535.37" x2="548.57" y2="535.59" stroke="#000" stroke-width="0.6"/>
<line x1="543.13" y1="528.33" x2="548.57" y2="524.47" stroke="#000" stroke-width="0.6"/>
<line x1="543.13" y1="504.48" x2="548.57" y2="516.52" stroke="#000" stroke-width="0.6"/>
<line x1="543.13" y1="325.3" x2="548.57" y2="325.3" stroke="#555" stroke-width="0.8"/>
<line x1="571.04" y1="535.59" x2="576.48" y2="464.97" stroke="#000" stroke-width="0.6"/>
<line x1="571.04" y1="524.47" x2="576.48" y2="460.88" stroke="#000" stroke-width="0.6"/>
<line x1="571.04" y1="516.52" x2="576.48" y2="457.47" stroke="#000" stroke-width="0.6"/>
<line x1="571.04" y1="325.3" x2="576.48" y2="325.3" stroke="#555" stroke-width="0.8"/>
<line x1="598.95" y1="464.97" x2="604.4" y2="501.76" stroke="#000" stroke-width="0.6"/>
<line x1="598.95" y1="460.88" x2="604.4" y2="476.55" stroke="#000" stroke-width="0.6"/>
<line x1="598.95" y1="457.47" x2="604.4" y2="465.65" stroke="#000" stroke-width="0.6"/>
<line x1="598.95" y1="325.3" x2="604.4" y2="325.3" stroke="#555" stroke-width="0.8"/>
<line x1="626.87" y1="501.76" x2="632.31" y2="485.18" stroke="#000" stroke-width="0.6"/>
<line x1="626.87" y1="476.55" x2="632.31" y2="441.12" stroke="#000" stroke-width="0.6"/>
<line x1="626.87" y1="465.65" x2="632.31" y2="412.73" stroke="#000" stroke-width="0.6"/>
<line x1="626.87" y1="325.3" x2="632.31" y2="325.3" stroke="#555" stroke-width="0.8"/>
<path d="M434.2 324.8V552.4H657.8" fill="none" stroke="#363636" stroke-width="1.1"/>
<line x1="430.1" y1="552.4" x2="434.2" y2="552.4" stroke="#363636" stroke-width="1.1"/>
<text class="s" transform="translate(428.24,555.62) scale(0.98,1.31)" font-size="7.7" text-anchor="end" fill="#1a1a1a">0</text>
<line x1="432.07" y1="529.69" x2="434.2" y2="529.69" stroke="#363636" stroke-width="1.1"/>
<line x1="430.1" y1="506.98" x2="434.2" y2="506.98" stroke="#363636" stroke-width="1.1"/>
<text class="s" transform="translate(428.24,510.2) scale(0.98,1.31)" font-size="7.7" text-anchor="end" fill="#1a1a1a">20</text>
<line x1="432.07" y1="484.27" x2="434.2" y2="484.27" stroke="#363636" stroke-width="1.1"/>
<line x1="430.1" y1="461.56" x2="434.2" y2="461.56" stroke="#363636" stroke-width="1.1"/>
<text class="s" transform="translate(428.24,464.78) scale(0.98,1.31)" font-size="7.7" text-anchor="end" fill="#1a1a1a">40</text>
<line x1="432.07" y1="438.85" x2="434.2" y2="438.85" stroke="#363636" stroke-width="1.1"/>
<line x1="430.1" y1="416.14" x2="434.2" y2="416.14" stroke="#363636" stroke-width="1.1"/>
<text class="s" transform="translate(428.24,419.36) scale(0.98,1.31)" font-size="7.7" text-anchor="end" fill="#1a1a1a">60</text>
<line x1="432.07" y1="393.43" x2="434.2" y2="393.43" stroke="#363636" stroke-width="1.1"/>
<line x1="430.1" y1="370.72" x2="434.2" y2="370.72" stroke="#363636" stroke-width="1.1"/>
<text class="s" transform="translate(428.24,373.94) scale(0.98,1.31)" font-size="7.7" text-anchor="end" fill="#1a1a1a">80</text>
<line x1="432.07" y1="348.01" x2="434.2" y2="348.01" stroke="#363636" stroke-width="1.1"/>
<line x1="430.1" y1="325.3" x2="434.2" y2="325.3" stroke="#363636" stroke-width="1.1"/>
<text class="s" transform="translate(428.24,328.52) scale(0.98,1.31)" font-size="7.7" text-anchor="end" fill="#1a1a1a">100</text>
<line x1="434.2" y1="552.4" x2="434.2" y2="554.6" stroke="#363636" stroke-width="1.1"/>
<line x1="448.16" y1="552.4" x2="448.16" y2="556.9" stroke="#363636" stroke-width="1.1"/>
<line x1="462.11" y1="552.4" x2="462.11" y2="554.6" stroke="#363636" stroke-width="1.1"/>
<line x1="476.07" y1="552.4" x2="476.07" y2="556.9" stroke="#363636" stroke-width="1.1"/>
<line x1="490.02" y1="552.4" x2="490.02" y2="554.6" stroke="#363636" stroke-width="1.1"/>
<line x1="503.98" y1="552.4" x2="503.98" y2="556.9" stroke="#363636" stroke-width="1.1"/>
<line x1="517.94" y1="552.4" x2="517.94" y2="554.6" stroke="#363636" stroke-width="1.1"/>
<line x1="531.89" y1="552.4" x2="531.89" y2="556.9" stroke="#363636" stroke-width="1.1"/>
<line x1="545.85" y1="552.4" x2="545.85" y2="554.6" stroke="#363636" stroke-width="1.1"/>
<line x1="559.81" y1="552.4" x2="559.81" y2="556.9" stroke="#363636" stroke-width="1.1"/>
<line x1="573.76" y1="552.4" x2="573.76" y2="554.6" stroke="#363636" stroke-width="1.1"/>
<line x1="587.72" y1="552.4" x2="587.72" y2="556.9" stroke="#363636" stroke-width="1.1"/>
<line x1="601.67" y1="552.4" x2="601.67" y2="554.6" stroke="#363636" stroke-width="1.1"/>
<line x1="615.63" y1="552.4" x2="615.63" y2="556.9" stroke="#363636" stroke-width="1.1"/>
<line x1="629.59" y1="552.4" x2="629.59" y2="554.6" stroke="#363636" stroke-width="1.1"/>
<line x1="643.54" y1="552.4" x2="643.54" y2="556.9" stroke="#363636" stroke-width="1.1"/>
<line x1="657.5" y1="552.4" x2="657.5" y2="554.6" stroke="#363636" stroke-width="1.1"/>
<text class="s" transform="translate(448.16,568) scale(0.98,1.31)" font-size="7.7" text-anchor="middle" fill="#1a1a1a">MW</text>
<text class="s" transform="translate(476.07,568) scale(0.98,1.31)" font-size="7.7" text-anchor="middle" fill="#1a1a1a">MWO</text>
<text class="s" transform="translate(503.98,568) scale(0.98,1.31)" font-size="7.7" text-anchor="middle" fill="#1a1a1a">MWCI</text>
<text class="s" transform="translate(531.89,568) scale(0.98,1.31)" font-size="7.7" text-anchor="middle" fill="#1a1a1a">MWCIO</text>
<text class="s" transform="translate(559.81,568) scale(0.98,1.31)" font-size="7.7" text-anchor="middle" fill="#1a1a1a">MWI</text>
<text class="s" transform="translate(587.72,568) scale(0.98,1.31)" font-size="7.7" text-anchor="middle" fill="#1a1a1a">MWIO</text>
<text class="s" transform="translate(615.63,568) scale(0.98,1.31)" font-size="7.7" text-anchor="middle" fill="#1a1a1a">NW</text>
<text class="s" transform="translate(643.54,568) scale(0.98,1.31)" font-size="7.7" text-anchor="middle" fill="#1a1a1a">NWO</text>
<text class="s" transform="translate(547.4,585.5) scale(0.93,1.33)" font-size="9.6" text-anchor="end" fill="#1a1a1a">Np</text>
<text class="r" transform="translate(550,585.5) scale(0.93,1.22)" font-size="10" text-anchor="start" fill="#3a3a3a">II</text>
<text class="s" transform="translate(412,454.06) scale(0.93,1.35)" font-size="9" text-anchor="middle" fill="#1a1a1a">%</text>
<rect x="655.3" y="414.7" width="46.6" height="44.3" fill="#fff" stroke="#a8a8a8" stroke-width="1"/>
<rect x="656.1" y="416.6" width="15.6" height="8.8" fill="#FFFF99" stroke="#444" stroke-width="0.9"/>
<text class="s" transform="translate(674,424.2) scale(0.93,1.12)" font-size="7.23" text-anchor="start" fill="#1a1a1a">&lt;10</text>
<rect x="656.1" y="427.7" width="15.6" height="8.8" fill="#C3B1D9" stroke="#444" stroke-width="0.9"/>
<text class="s" transform="translate(674,434.7) scale(0.93,1.12)" font-size="7.23" text-anchor="start" fill="#1a1a1a">100-10</text>
<rect x="656.1" y="438.5" width="15.6" height="8.8" fill="#98D698" stroke="#444" stroke-width="0.9"/>
<text class="s" transform="translate(674,445.8) scale(0.93,1.12)" font-size="7.23" text-anchor="start" fill="#1a1a1a">450 -100</text>
<rect x="656.1" y="449.3" width="15.6" height="8.8" fill="#FDC692" stroke="#444" stroke-width="0.9"/>
<text class="s" transform="translate(674,456.3) scale(0.93,1.12)" font-size="7.23" text-anchor="start" fill="#1a1a1a">&gt;450</text>
<text class="s" transform="translate(659.3,408.9) scale(0.93,1.05)" font-size="8.94" text-anchor="start" fill="#1a1a1a">pore size</text>
</g>
<g id="P5">
<rect x="74.43" y="880.05" width="23.96" height="0.45" fill="#FDC692" stroke="#333" stroke-width="0.6"/>
<rect x="74.43" y="877.12" width="23.96" height="2.93" fill="#98D698" stroke="#333" stroke-width="0.6"/>
<rect x="74.43" y="875.54" width="23.96" height="1.58" fill="#C3B1D9" stroke="#333" stroke-width="0.6"/>
<rect x="74.43" y="654.9" width="23.96" height="220.64" fill="#FFFF99" stroke="#333" stroke-width="0.6"/>
<rect x="104.33" y="876.44" width="23.96" height="4.06" fill="#FDC692" stroke="#333" stroke-width="0.6"/>
<rect x="104.33" y="870.8" width="23.96" height="5.64" fill="#98D698" stroke="#333" stroke-width="0.6"/>
<rect x="104.33" y="865.84" width="23.96" height="4.96" fill="#C3B1D9" stroke="#333" stroke-width="0.6"/>
<rect x="104.33" y="654.9" width="23.96" height="210.94" fill="#FFFF99" stroke="#333" stroke-width="0.6"/>
<rect x="134.23" y="873.51" width="23.96" height="6.99" fill="#FDC692" stroke="#333" stroke-width="0.6"/>
<rect x="134.23" y="847.79" width="23.96" height="25.72" fill="#98D698" stroke="#333" stroke-width="0.6"/>
<rect x="134.23" y="830.19" width="23.96" height="17.6" fill="#C3B1D9" stroke="#333" stroke-width="0.6"/>
<rect x="134.23" y="654.9" width="23.96" height="175.29" fill="#FFFF99" stroke="#333" stroke-width="0.6"/>
<rect x="164.13" y="865.84" width="23.96" height="14.66" fill="#FDC692" stroke="#333" stroke-width="0.6"/>
<rect x="164.13" y="864.26" width="23.96" height="1.58" fill="#98D698" stroke="#333" stroke-width="0.6"/>
<rect x="164.13" y="863.35" width="23.96" height="0.9" fill="#C3B1D9" stroke="#333" stroke-width="0.6"/>
<rect x="164.13" y="654.9" width="23.96" height="208.45" fill="#FFFF99" stroke="#333" stroke-width="0.6"/>
<rect x="194.03" y="843.5" width="23.96" height="37" fill="#FDC692" stroke="#333" stroke-width="0.6"/>
<rect x="194.03" y="841.7" width="23.96" height="1.8" fill="#98D698" stroke="#333" stroke-width="0.6"/>
<rect x="194.03" y="838.54" width="23.96" height="3.16" fill="#C3B1D9" stroke="#333" stroke-width="0.6"/>
<rect x="194.03" y="654.9" width="23.96" height="183.64" fill="#FFFF99" stroke="#333" stroke-width="0.6"/>
<rect x="223.93" y="877.43" width="23.96" height="3.07" fill="#FDC692" stroke="#333" stroke-width="0.6"/>
<rect x="223.93" y="874.18" width="23.96" height="3.25" fill="#98D698" stroke="#333" stroke-width="0.6"/>
<rect x="223.93" y="870.35" width="23.96" height="3.84" fill="#C3B1D9" stroke="#333" stroke-width="0.6"/>
<rect x="223.93" y="654.9" width="23.96" height="215.45" fill="#FFFF99" stroke="#333" stroke-width="0.6"/>
<rect x="253.83" y="878.7" width="23.96" height="1.8" fill="#FDC692" stroke="#333" stroke-width="0.6"/>
<rect x="253.83" y="874.63" width="23.96" height="4.06" fill="#98D698" stroke="#333" stroke-width="0.6"/>
<rect x="253.83" y="870.35" width="23.96" height="4.29" fill="#C3B1D9" stroke="#333" stroke-width="0.6"/>
<rect x="253.83" y="654.9" width="23.96" height="215.45" fill="#FFFF99" stroke="#333" stroke-width="0.6"/>
<rect x="283.73" y="849.37" width="23.96" height="31.13" fill="#FDC692" stroke="#333" stroke-width="0.6"/>
<rect x="283.73" y="802.44" width="23.96" height="46.92" fill="#98D698" stroke="#333" stroke-width="0.6"/>
<rect x="283.73" y="766.57" width="23.96" height="35.87" fill="#C3B1D9" stroke="#333" stroke-width="0.6"/>
<rect x="283.73" y="654.9" width="23.96" height="111.67" fill="#FFFF99" stroke="#333" stroke-width="0.6"/>
<line x1="98.39" y1="880.05" x2="104.33" y2="876.44" stroke="#000" stroke-width="0.6"/>
<line x1="98.39" y1="877.12" x2="104.33" y2="870.8" stroke="#000" stroke-width="0.6"/>
<line x1="98.39" y1="875.54" x2="104.33" y2="865.84" stroke="#000" stroke-width="0.6"/>
<line x1="98.39" y1="654.9" x2="104.33" y2="654.9" stroke="#555" stroke-width="0.8"/>
<line x1="128.29" y1="876.44" x2="134.23" y2="873.51" stroke="#000" stroke-width="0.6"/>
<line x1="128.29" y1="870.8" x2="134.23" y2="847.79" stroke="#000" stroke-width="0.6"/>
<line x1="128.29" y1="865.84" x2="134.23" y2="830.19" stroke="#000" stroke-width="0.6"/>
<line x1="128.29" y1="654.9" x2="134.23" y2="654.9" stroke="#555" stroke-width="0.8"/>
<line x1="158.19" y1="873.51" x2="164.13" y2="865.84" stroke="#000" stroke-width="0.6"/>
<line x1="158.19" y1="847.79" x2="164.13" y2="864.26" stroke="#000" stroke-width="0.6"/>
<line x1="158.19" y1="830.19" x2="164.13" y2="863.35" stroke="#000" stroke-width="0.6"/>
<line x1="158.19" y1="654.9" x2="164.13" y2="654.9" stroke="#555" stroke-width="0.8"/>
<line x1="188.09" y1="865.84" x2="194.03" y2="843.5" stroke="#000" stroke-width="0.6"/>
<line x1="188.09" y1="864.26" x2="194.03" y2="841.7" stroke="#000" stroke-width="0.6"/>
<line x1="188.09" y1="863.35" x2="194.03" y2="838.54" stroke="#000" stroke-width="0.6"/>
<line x1="188.09" y1="654.9" x2="194.03" y2="654.9" stroke="#555" stroke-width="0.8"/>
<line x1="217.99" y1="843.5" x2="223.93" y2="877.43" stroke="#000" stroke-width="0.6"/>
<line x1="217.99" y1="841.7" x2="223.93" y2="874.18" stroke="#000" stroke-width="0.6"/>
<line x1="217.99" y1="838.54" x2="223.93" y2="870.35" stroke="#000" stroke-width="0.6"/>
<line x1="217.99" y1="654.9" x2="223.93" y2="654.9" stroke="#555" stroke-width="0.8"/>
<line x1="247.89" y1="877.43" x2="253.83" y2="878.7" stroke="#000" stroke-width="0.6"/>
<line x1="247.89" y1="874.18" x2="253.83" y2="874.63" stroke="#000" stroke-width="0.6"/>
<line x1="247.89" y1="870.35" x2="253.83" y2="870.35" stroke="#000" stroke-width="0.6"/>
<line x1="247.89" y1="654.9" x2="253.83" y2="654.9" stroke="#555" stroke-width="0.8"/>
<line x1="277.79" y1="878.7" x2="283.73" y2="849.37" stroke="#000" stroke-width="0.6"/>
<line x1="277.79" y1="874.63" x2="283.73" y2="802.44" stroke="#000" stroke-width="0.6"/>
<line x1="277.79" y1="870.35" x2="283.73" y2="766.57" stroke="#000" stroke-width="0.6"/>
<line x1="277.79" y1="654.9" x2="283.73" y2="654.9" stroke="#555" stroke-width="0.8"/>
<path d="M71.2 654.4V880.5H311.1" fill="none" stroke="#363636" stroke-width="1.1"/>
<line x1="67.6" y1="880.5" x2="71.2" y2="880.5" stroke="#363636" stroke-width="1.1"/>
<text class="s" transform="translate(64.8,883.69) scale(1.05,1.3)" font-size="7.7" text-anchor="end" fill="#1a1a1a">0</text>
<line x1="69.33" y1="857.94" x2="71.2" y2="857.94" stroke="#363636" stroke-width="1.1"/>
<line x1="67.6" y1="835.38" x2="71.2" y2="835.38" stroke="#363636" stroke-width="1.1"/>
<text class="s" transform="translate(64.8,838.57) scale(1.05,1.3)" font-size="7.7" text-anchor="end" fill="#1a1a1a">20</text>
<line x1="69.33" y1="812.82" x2="71.2" y2="812.82" stroke="#363636" stroke-width="1.1"/>
<line x1="67.6" y1="790.26" x2="71.2" y2="790.26" stroke="#363636" stroke-width="1.1"/>
<text class="s" transform="translate(64.8,793.45) scale(1.05,1.3)" font-size="7.7" text-anchor="end" fill="#1a1a1a">40</text>
<line x1="69.33" y1="767.7" x2="71.2" y2="767.7" stroke="#363636" stroke-width="1.1"/>
<line x1="67.6" y1="745.14" x2="71.2" y2="745.14" stroke="#363636" stroke-width="1.1"/>
<text class="s" transform="translate(64.8,748.33) scale(1.05,1.3)" font-size="7.7" text-anchor="end" fill="#1a1a1a">60</text>
<line x1="69.33" y1="722.58" x2="71.2" y2="722.58" stroke="#363636" stroke-width="1.1"/>
<line x1="67.6" y1="700.02" x2="71.2" y2="700.02" stroke="#363636" stroke-width="1.1"/>
<text class="s" transform="translate(64.8,703.21) scale(1.05,1.3)" font-size="7.7" text-anchor="end" fill="#1a1a1a">80</text>
<line x1="69.33" y1="677.46" x2="71.2" y2="677.46" stroke="#363636" stroke-width="1.1"/>
<line x1="67.6" y1="654.9" x2="71.2" y2="654.9" stroke="#363636" stroke-width="1.1"/>
<text class="s" transform="translate(64.8,658.09) scale(1.05,1.3)" font-size="7.7" text-anchor="end" fill="#1a1a1a">100</text>
<line x1="71.2" y1="880.5" x2="71.2" y2="882.7" stroke="#363636" stroke-width="1.1"/>
<line x1="86.18" y1="880.5" x2="86.18" y2="885" stroke="#363636" stroke-width="1.1"/>
<line x1="101.15" y1="880.5" x2="101.15" y2="882.7" stroke="#363636" stroke-width="1.1"/>
<line x1="116.12" y1="880.5" x2="116.12" y2="885" stroke="#363636" stroke-width="1.1"/>
<line x1="131.1" y1="880.5" x2="131.1" y2="882.7" stroke="#363636" stroke-width="1.1"/>
<line x1="146.07" y1="880.5" x2="146.07" y2="885" stroke="#363636" stroke-width="1.1"/>
<line x1="161.05" y1="880.5" x2="161.05" y2="882.7" stroke="#363636" stroke-width="1.1"/>
<line x1="176.03" y1="880.5" x2="176.03" y2="885" stroke="#363636" stroke-width="1.1"/>
<line x1="191" y1="880.5" x2="191" y2="882.7" stroke="#363636" stroke-width="1.1"/>
<line x1="205.98" y1="880.5" x2="205.98" y2="885" stroke="#363636" stroke-width="1.1"/>
<line x1="220.95" y1="880.5" x2="220.95" y2="882.7" stroke="#363636" stroke-width="1.1"/>
<line x1="235.93" y1="880.5" x2="235.93" y2="885" stroke="#363636" stroke-width="1.1"/>
<line x1="250.9" y1="880.5" x2="250.9" y2="882.7" stroke="#363636" stroke-width="1.1"/>
<line x1="265.88" y1="880.5" x2="265.88" y2="885" stroke="#363636" stroke-width="1.1"/>
<line x1="280.85" y1="880.5" x2="280.85" y2="882.7" stroke="#363636" stroke-width="1.1"/>
<line x1="295.83" y1="880.5" x2="295.83" y2="885" stroke="#363636" stroke-width="1.1"/>
<line x1="310.8" y1="880.5" x2="310.8" y2="882.7" stroke="#363636" stroke-width="1.1"/>
<text class="s" transform="translate(86.18,895.9) scale(1.05,1.34)" font-size="7.7" text-anchor="middle" fill="#1a1a1a">MW</text>
<text class="s" transform="translate(116.12,895.9) scale(1.05,1.34)" font-size="7.7" text-anchor="middle" fill="#1a1a1a">MWO</text>
<text class="s" transform="translate(146.07,895.9) scale(1.05,1.34)" font-size="7.7" text-anchor="middle" fill="#1a1a1a">MWCI</text>
<text class="s" transform="translate(176.03,895.9) scale(1.05,1.34)" font-size="7.7" text-anchor="middle" fill="#1a1a1a">MWCIO</text>
<text class="s" transform="translate(205.98,895.9) scale(1.05,1.34)" font-size="7.7" text-anchor="middle" fill="#1a1a1a">MWI</text>
<text class="s" transform="translate(235.93,895.9) scale(1.05,1.34)" font-size="7.7" text-anchor="middle" fill="#1a1a1a">MWIO</text>
<text class="s" transform="translate(265.88,895.9) scale(1.05,1.34)" font-size="7.7" text-anchor="middle" fill="#1a1a1a">NW</text>
<text class="s" transform="translate(295.83,895.9) scale(1.05,1.34)" font-size="7.7" text-anchor="middle" fill="#1a1a1a">NWO</text>
<text class="s" transform="translate(191.2,913.5) scale(1,1.34)" font-size="9" text-anchor="end" fill="#1a1a1a">U</text>
<text class="r" transform="translate(194.1,913.5) scale(1,1.02)" font-size="11.5" text-anchor="start" fill="#666">I</text>
<text class="s" transform="translate(38.1,787.21) scale(1,1.4)" font-size="9" text-anchor="middle" fill="#1a1a1a">%</text>
<rect x="308.3" y="752.5" width="51.5" height="45.6" fill="#fff" stroke="#a8a8a8" stroke-width="1"/>
<rect x="308.9" y="754" width="16.8" height="9.2" fill="#FFFF99" stroke="#444" stroke-width="0.9"/>
<text class="s" transform="translate(328.1,761.6) scale(1,1.24)" font-size="7.79" text-anchor="start" fill="#1a1a1a">&lt;10</text>
<rect x="308.9" y="765.4" width="16.8" height="8.7" fill="#C3B1D9" stroke="#444" stroke-width="0.9"/>
<text class="s" transform="translate(328.1,772.8) scale(1,1.24)" font-size="7.79" text-anchor="start" fill="#1a1a1a">100-10</text>
<rect x="308.9" y="776.3" width="16.8" height="8.9" fill="#98D698" stroke="#444" stroke-width="0.9"/>
<text class="s" transform="translate(328.1,783.8) scale(1,1.24)" font-size="7.79" text-anchor="start" fill="#1a1a1a">450 -100</text>
<rect x="308.9" y="787.4" width="16.8" height="9.1" fill="#FDC692" stroke="#444" stroke-width="0.9"/>
<text class="s" transform="translate(328.1,794.9) scale(1,1.24)" font-size="7.79" text-anchor="start" fill="#1a1a1a">&gt;450</text>
<text class="s" transform="translate(315.6,744.5) scale(1,1.08)" font-size="9.03" text-anchor="start" fill="#1a1a1a">pore size</text>
</g>
<g id="P6">
<rect x="436.92" y="871.38" width="22.46" height="5.02" fill="#FDC692" stroke="#333" stroke-width="0.6"/>
<rect x="436.92" y="871.06" width="22.46" height="0.31" fill="#98D698" stroke="#333" stroke-width="0.6"/>
<rect x="436.92" y="870.62" width="22.46" height="0.44" fill="#C3B1D9" stroke="#333" stroke-width="0.6"/>
<rect x="436.92" y="654.1" width="22.46" height="216.52" fill="#FFFF99" stroke="#333" stroke-width="0.6"/>
<rect x="464.82" y="849.72" width="22.46" height="26.68" fill="#FDC692" stroke="#333" stroke-width="0.6"/>
<rect x="464.82" y="847.28" width="22.46" height="2.45" fill="#98D698" stroke="#333" stroke-width="0.6"/>
<rect x="464.82" y="846.39" width="22.46" height="0.89" fill="#C3B1D9" stroke="#333" stroke-width="0.6"/>
<rect x="464.82" y="654.1" width="22.46" height="192.29" fill="#FFFF99" stroke="#333" stroke-width="0.6"/>
<rect x="492.72" y="717.79" width="22.46" height="158.61" fill="#FDC692" stroke="#333" stroke-width="0.6"/>
<rect x="492.72" y="716.12" width="22.46" height="1.67" fill="#98D698" stroke="#333" stroke-width="0.6"/>
<rect x="492.72" y="715.68" width="22.46" height="0.44" fill="#C3B1D9" stroke="#333" stroke-width="0.6"/>
<rect x="492.72" y="654.1" width="22.46" height="61.58" fill="#FFFF99" stroke="#333" stroke-width="0.6"/>
<rect x="520.62" y="806.6" width="22.46" height="69.8" fill="#FDC692" stroke="#333" stroke-width="0.6"/>
<rect x="520.62" y="803.04" width="22.46" height="3.56" fill="#98D698" stroke="#333" stroke-width="0.6"/>
<rect x="520.62" y="800.6" width="22.46" height="2.45" fill="#C3B1D9" stroke="#333" stroke-width="0.6"/>
<rect x="520.62" y="654.1" width="22.46" height="146.5" fill="#FFFF99" stroke="#333" stroke-width="0.6"/>
<rect x="548.52" y="859.28" width="22.46" height="17.12" fill="#FDC692" stroke="#333" stroke-width="0.6"/>
<rect x="548.52" y="857.28" width="22.46" height="2" fill="#98D698" stroke="#333" stroke-width="0.6"/>
<rect x="548.52" y="852.61" width="22.46" height="4.67" fill="#C3B1D9" stroke="#333" stroke-width="0.6"/>
<rect x="548.52" y="654.1" width="22.46" height="198.51" fill="#FFFF99" stroke="#333" stroke-width="0.6"/>
<rect x="576.42" y="859.73" width="22.46" height="16.67" fill="#FDC692" stroke="#333" stroke-width="0.6"/>
<rect x="576.42" y="844.83" width="22.46" height="14.89" fill="#98D698" stroke="#333" stroke-width="0.6"/>
<rect x="576.42" y="836.83" width="22.46" height="8" fill="#C3B1D9" stroke="#333" stroke-width="0.6"/>
<rect x="576.42" y="654.1" width="22.46" height="182.73" fill="#FFFF99" stroke="#333" stroke-width="0.6"/>
<rect x="604.32" y="840.83" width="22.46" height="35.57" fill="#FDC692" stroke="#333" stroke-width="0.6"/>
<rect x="604.32" y="838.83" width="22.46" height="2" fill="#98D698" stroke="#333" stroke-width="0.6"/>
<rect x="604.32" y="833.5" width="22.46" height="5.34" fill="#C3B1D9" stroke="#333" stroke-width="0.6"/>
<rect x="604.32" y="654.1" width="22.46" height="179.4" fill="#FFFF99" stroke="#333" stroke-width="0.6"/>
<rect x="632.22" y="739.91" width="22.46" height="136.49" fill="#FDC692" stroke="#333" stroke-width="0.6"/>
<rect x="632.22" y="735.24" width="22.46" height="4.67" fill="#98D698" stroke="#333" stroke-width="0.6"/>
<rect x="632.22" y="726.35" width="22.46" height="8.89" fill="#C3B1D9" stroke="#333" stroke-width="0.6"/>
<rect x="632.22" y="654.1" width="22.46" height="72.25" fill="#FFFF99" stroke="#333" stroke-width="0.6"/>
<line x1="459.38" y1="871.38" x2="464.82" y2="849.72" stroke="#000" stroke-width="0.6"/>
<line x1="459.38" y1="871.06" x2="464.82" y2="847.28" stroke="#000" stroke-width="0.6"/>
<line x1="459.38" y1="870.62" x2="464.82" y2="846.39" stroke="#000" stroke-width="0.6"/>
<line x1="459.38" y1="654.1" x2="464.82" y2="654.1" stroke="#555" stroke-width="0.8"/>
<line x1="487.28" y1="849.72" x2="492.72" y2="717.79" stroke="#000" stroke-width="0.6"/>
<line x1="487.28" y1="847.28" x2="492.72" y2="716.12" stroke="#000" stroke-width="0.6"/>
<line x1="487.28" y1="846.39" x2="492.72" y2="715.68" stroke="#000" stroke-width="0.6"/>
<line x1="487.28" y1="654.1" x2="492.72" y2="654.1" stroke="#555" stroke-width="0.8"/>
<line x1="515.18" y1="717.79" x2="520.62" y2="806.6" stroke="#000" stroke-width="0.6"/>
<line x1="515.18" y1="716.12" x2="520.62" y2="803.04" stroke="#000" stroke-width="0.6"/>
<line x1="515.18" y1="715.68" x2="520.62" y2="800.6" stroke="#000" stroke-width="0.6"/>
<line x1="515.18" y1="654.1" x2="520.62" y2="654.1" stroke="#555" stroke-width="0.8"/>
<line x1="543.08" y1="806.6" x2="548.52" y2="859.28" stroke="#000" stroke-width="0.6"/>
<line x1="543.08" y1="803.04" x2="548.52" y2="857.28" stroke="#000" stroke-width="0.6"/>
<line x1="543.08" y1="800.6" x2="548.52" y2="852.61" stroke="#000" stroke-width="0.6"/>
<line x1="543.08" y1="654.1" x2="548.52" y2="654.1" stroke="#555" stroke-width="0.8"/>
<line x1="570.98" y1="859.28" x2="576.42" y2="859.73" stroke="#000" stroke-width="0.6"/>
<line x1="570.98" y1="857.28" x2="576.42" y2="844.83" stroke="#000" stroke-width="0.6"/>
<line x1="570.98" y1="852.61" x2="576.42" y2="836.83" stroke="#000" stroke-width="0.6"/>
<line x1="570.98" y1="654.1" x2="576.42" y2="654.1" stroke="#555" stroke-width="0.8"/>
<line x1="598.88" y1="859.73" x2="604.32" y2="840.83" stroke="#000" stroke-width="0.6"/>
<line x1="598.88" y1="844.83" x2="604.32" y2="838.83" stroke="#000" stroke-width="0.6"/>
<line x1="598.88" y1="836.83" x2="604.32" y2="833.5" stroke="#000" stroke-width="0.6"/>
<line x1="598.88" y1="654.1" x2="604.32" y2="654.1" stroke="#555" stroke-width="0.8"/>
<line x1="626.78" y1="840.83" x2="632.22" y2="739.91" stroke="#000" stroke-width="0.6"/>
<line x1="626.78" y1="838.83" x2="632.22" y2="735.24" stroke="#000" stroke-width="0.6"/>
<line x1="626.78" y1="833.5" x2="632.22" y2="726.35" stroke="#000" stroke-width="0.6"/>
<line x1="626.78" y1="654.1" x2="632.22" y2="654.1" stroke="#555" stroke-width="0.8"/>
<path d="M434.2 653.6V876.4H657.7" fill="none" stroke="#363636" stroke-width="1.1"/>
<line x1="430.1" y1="876.4" x2="434.2" y2="876.4" stroke="#363636" stroke-width="1.1"/>
<text class="s" transform="translate(428.24,879.59) scale(0.97,1.3)" font-size="7.7" text-anchor="end" fill="#1a1a1a">0</text>
<line x1="432.07" y1="854.17" x2="434.2" y2="854.17" stroke="#363636" stroke-width="1.1"/>
<line x1="430.1" y1="831.94" x2="434.2" y2="831.94" stroke="#363636" stroke-width="1.1"/>
<text class="s" transform="translate(428.24,835.13) scale(0.97,1.3)" font-size="7.7" text-anchor="end" fill="#1a1a1a">20</text>
<line x1="432.07" y1="809.71" x2="434.2" y2="809.71" stroke="#363636" stroke-width="1.1"/>
<line x1="430.1" y1="787.48" x2="434.2" y2="787.48" stroke="#363636" stroke-width="1.1"/>
<text class="s" transform="translate(428.24,790.67) scale(0.97,1.3)" font-size="7.7" text-anchor="end" fill="#1a1a1a">40</text>
<line x1="432.07" y1="765.25" x2="434.2" y2="765.25" stroke="#363636" stroke-width="1.1"/>
<line x1="430.1" y1="743.02" x2="434.2" y2="743.02" stroke="#363636" stroke-width="1.1"/>
<text class="s" transform="translate(428.24,746.21) scale(0.97,1.3)" font-size="7.7" text-anchor="end" fill="#1a1a1a">60</text>
<line x1="432.07" y1="720.79" x2="434.2" y2="720.79" stroke="#363636" stroke-width="1.1"/>
<line x1="430.1" y1="698.56" x2="434.2" y2="698.56" stroke="#363636" stroke-width="1.1"/>
<text class="s" transform="translate(428.24,701.75) scale(0.97,1.3)" font-size="7.7" text-anchor="end" fill="#1a1a1a">80</text>
<line x1="432.07" y1="676.33" x2="434.2" y2="676.33" stroke="#363636" stroke-width="1.1"/>
<line x1="430.1" y1="654.1" x2="434.2" y2="654.1" stroke="#363636" stroke-width="1.1"/>
<text class="s" transform="translate(428.24,657.29) scale(0.97,1.3)" font-size="7.7" text-anchor="end" fill="#1a1a1a">100</text>
<line x1="434.2" y1="876.4" x2="434.2" y2="878.6" stroke="#363636" stroke-width="1.1"/>
<line x1="448.15" y1="876.4" x2="448.15" y2="880.9" stroke="#363636" stroke-width="1.1"/>
<line x1="462.1" y1="876.4" x2="462.1" y2="878.6" stroke="#363636" stroke-width="1.1"/>
<line x1="476.05" y1="876.4" x2="476.05" y2="880.9" stroke="#363636" stroke-width="1.1"/>
<line x1="490" y1="876.4" x2="490" y2="878.6" stroke="#363636" stroke-width="1.1"/>
<line x1="503.95" y1="876.4" x2="503.95" y2="880.9" stroke="#363636" stroke-width="1.1"/>
<line x1="517.9" y1="876.4" x2="517.9" y2="878.6" stroke="#363636" stroke-width="1.1"/>
<line x1="531.85" y1="876.4" x2="531.85" y2="880.9" stroke="#363636" stroke-width="1.1"/>
<line x1="545.8" y1="876.4" x2="545.8" y2="878.6" stroke="#363636" stroke-width="1.1"/>
<line x1="559.75" y1="876.4" x2="559.75" y2="880.9" stroke="#363636" stroke-width="1.1"/>
<line x1="573.7" y1="876.4" x2="573.7" y2="878.6" stroke="#363636" stroke-width="1.1"/>
<line x1="587.65" y1="876.4" x2="587.65" y2="880.9" stroke="#363636" stroke-width="1.1"/>
<line x1="601.6" y1="876.4" x2="601.6" y2="878.6" stroke="#363636" stroke-width="1.1"/>
<line x1="615.55" y1="876.4" x2="615.55" y2="880.9" stroke="#363636" stroke-width="1.1"/>
<line x1="629.5" y1="876.4" x2="629.5" y2="878.6" stroke="#363636" stroke-width="1.1"/>
<line x1="643.45" y1="876.4" x2="643.45" y2="880.9" stroke="#363636" stroke-width="1.1"/>
<line x1="657.4" y1="876.4" x2="657.4" y2="878.6" stroke="#363636" stroke-width="1.1"/>
<text class="s" transform="translate(448.15,891.59) scale(0.97,1.34)" font-size="7.7" text-anchor="middle" fill="#1a1a1a">MW</text>
<text class="s" transform="translate(476.05,891.59) scale(0.97,1.34)" font-size="7.7" text-anchor="middle" fill="#1a1a1a">MWO</text>
<text class="s" transform="translate(503.95,891.59) scale(0.97,1.34)" font-size="7.7" text-anchor="middle" fill="#1a1a1a">MWCI</text>
<text class="s" transform="translate(531.85,891.59) scale(0.97,1.34)" font-size="7.7" text-anchor="middle" fill="#1a1a1a">MWCIO</text>
<text class="s" transform="translate(559.75,891.59) scale(0.97,1.34)" font-size="7.7" text-anchor="middle" fill="#1a1a1a">MWI</text>
<text class="s" transform="translate(587.65,891.59) scale(0.97,1.34)" font-size="7.7" text-anchor="middle" fill="#1a1a1a">MWIO</text>
<text class="s" transform="translate(615.55,891.59) scale(0.97,1.34)" font-size="7.7" text-anchor="middle" fill="#1a1a1a">NW</text>
<text class="s" transform="translate(643.45,891.59) scale(0.97,1.34)" font-size="7.7" text-anchor="middle" fill="#1a1a1a">NWO</text>
<text class="s" transform="translate(544.2,909.4) scale(0.93,1.2)" font-size="9.6" text-anchor="end" fill="#1a1a1a">U</text>
<text class="r" transform="translate(547.4,909.2) scale(0.93,1.25)" font-size="9.8" text-anchor="start" fill="#6a6a6a">II</text>
<text class="s" transform="translate(404.8,785.91) scale(0.93,1.37)" font-size="9" text-anchor="middle" fill="#1a1a1a">%</text>
<rect x="655.1" y="739.6" width="47.6" height="44.9" fill="#fff" stroke="#a8a8a8" stroke-width="1"/>
<rect x="655.5" y="741.3" width="16.1" height="8.8" fill="#FFFF99" stroke="#444" stroke-width="0.9"/>
<text class="s" transform="translate(674,748.6) scale(0.93,1.18)" font-size="7.52" text-anchor="start" fill="#1a1a1a">&lt;10</text>
<rect x="655.5" y="752.3" width="16.1" height="8.7" fill="#C3B1D9" stroke="#444" stroke-width="0.9"/>
<text class="s" transform="translate(674,759.7) scale(0.93,1.18)" font-size="7.52" text-anchor="start" fill="#1a1a1a">100-10</text>
<rect x="655.5" y="763.2" width="16.1" height="8.9" fill="#98D698" stroke="#444" stroke-width="0.9"/>
<text class="s" transform="translate(674,770.6) scale(0.93,1.18)" font-size="7.52" text-anchor="start" fill="#1a1a1a">450 -100</text>
<rect x="655.5" y="774.3" width="16.1" height="8.8" fill="#FDC692" stroke="#444" stroke-width="0.9"/>
<text class="s" transform="translate(674,781.7) scale(0.93,1.18)" font-size="7.52" text-anchor="start" fill="#1a1a1a">&gt;450</text>
<text class="s" transform="translate(659.6,733.1) scale(0.93,1.04)" font-size="9.05" text-anchor="start" fill="#1a1a1a">pore size</text>
</g>

<line x1="0" y1="0.45" x2="722" y2="0.45" stroke="#444" stroke-width="0.9"/>
<line x1="0.5" y1="0" x2="0.5" y2="944" stroke="#3a3a3a" stroke-width="1"/>
<line x1="0" y1="943.5" x2="722" y2="943.5" stroke="#222" stroke-width="1"/>
<line x1="721.5" y1="0" x2="721.5" y2="944" stroke="#d0d0d0" stroke-width="1"/>
<line x1="0" y1="288.5" x2="722" y2="288.5" stroke="#222" stroke-width="1.1"/>
<line x1="0" y1="618" x2="722" y2="618" stroke="#6e6e6e" stroke-width="1.6"/>
<line x1="367.6" y1="0" x2="367.6" y2="944" stroke="#3c3c3c" stroke-width="1.1"/>

</svg>
</body></html>
